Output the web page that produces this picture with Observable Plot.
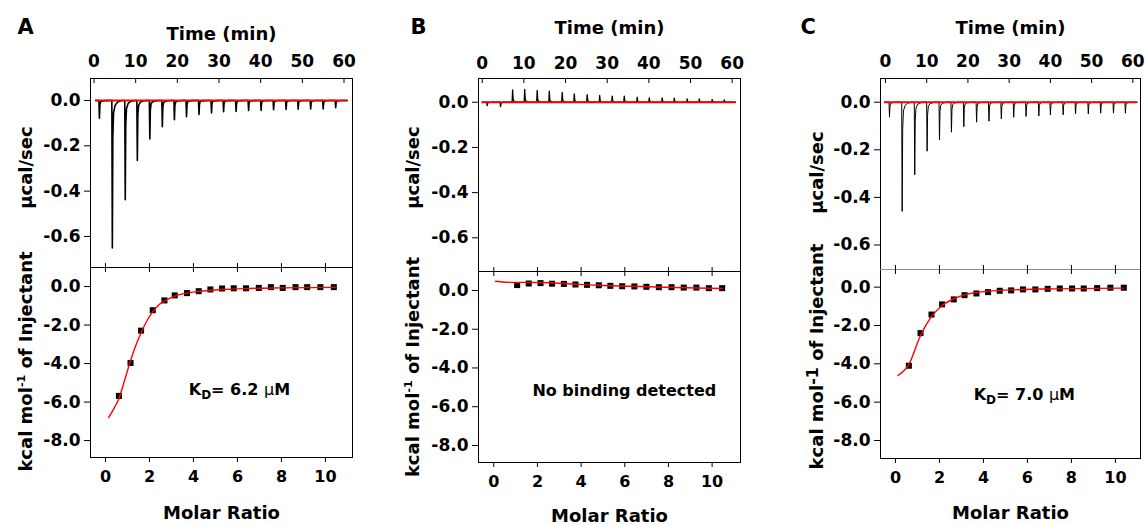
<!DOCTYPE html>
<html>
<head>
<meta charset="utf-8">
<script src="https://cdn.jsdelivr.net/npm/d3@7"></script>
<script src="https://cdn.jsdelivr.net/npm/@observablehq/plot@0.6"></script>
<style>
  html, body { margin: 0; padding: 0; background: #fff; }
  #fig { position: relative; width: 1145px; height: 525px; overflow: hidden; }
  #fig > svg { position: absolute; }
</style>
</head>
<body>
<div id="fig"></div>
<script>
// ---- Axis ticks -------------------------------------------------------
const timeTicks = [0, 10, 20, 30, 40, 50, 60];
const ratioTicks = [0, 2, 4, 6, 8, 10];
const powerTicks = [0, -0.2, -0.4, -0.6];
const heatTicks = [0, -2, -4, -6, -8];

// Shape of one injection peak: minutes relative to the peak, fraction of peak height
const peakProfile = [[-0.12, 0], [0, 1], [0.12, 0.25], [0.3, 0.08], [0.7, 0.03], [1.3, 0.01], [2.2, 0]];

// ---- A ----------------------------------------------------------------
const timesA = [1.3, 4.4, 7.5, 10.4, 13.4, 16.4, 19.3, 22.2, 25.2, 28.2, 31.1, 34.1, 37.1, 40.1, 43.1, 46.1, 49.0, 52.0, 55.0, 58.0];
const peaksA = [-0.078, -0.651, -0.438, -0.265, -0.170, -0.116, -0.085, -0.072, -0.062, -0.055, -0.050, -0.048, -0.044, -0.044, -0.041, -0.040, -0.038, -0.037, -0.037, -0.032];
const baselineA = [0.4, 60.8];
const ratioA = [0.61, 1.14, 1.62, 2.15, 2.68, 3.15, 3.71, 4.24, 4.77, 5.30, 5.83, 6.39, 6.97, 7.52, 8.06, 8.64, 9.17, 9.77, 10.38];
const heatA = [-5.68, -3.97, -2.29, -1.23, -0.72, -0.46, -0.34, -0.24, -0.15, -0.10, -0.09, -0.09, -0.07, -0.03, -0.07, -0.03, -0.03, -0.03, -0.03];
const fitRatioA = [0.15, 0.4, 0.6, 0.85, 1.1, 1.35, 1.6, 1.9, 2.15, 2.4, 2.7, 3.15, 3.7, 4.25, 5.3, 6.5, 8.0, 10.45];
const fitHeatA = [-6.8, -6.3, -5.85, -4.95, -4.0, -3.15, -2.45, -1.75, -1.3, -0.98, -0.74, -0.5, -0.34, -0.25, -0.15, -0.1, -0.07, -0.04];

// ---- B ----------------------------------------------------------------
const timesB = [1.2, 4.4, 7.3, 10.2, 13.2, 16.1, 19.2, 22.1, 25.2, 28.2, 31.2, 34.1, 37.2, 40.1, 43.2, 46.1, 49.2, 52.1, 55.2, 58.1];
const peaksB = [-0.015, -0.019, 0.055, 0.057, 0.052, 0.049, 0.044, 0.037, 0.034, 0.030, 0.027, 0.027, 0.022, 0.019, 0.019, 0.018, 0.015, 0.015, 0.012, 0.010];
const baselineB = [0.0, 60.8];
const ratioB = [1.07, 1.60, 2.14, 2.67, 3.21, 3.74, 4.27, 4.81, 5.34, 5.88, 6.44, 6.99, 7.56, 8.14, 8.70, 9.28, 9.85, 10.46];
const heatB = [0.28, 0.36, 0.38, 0.35, 0.34, 0.31, 0.29, 0.27, 0.24, 0.22, 0.21, 0.19, 0.17, 0.17, 0.15, 0.15, 0.12, 0.12];
const fitRatioB = [0.08, 0.3, 0.76, 2.14, 3.36, 4.73, 6.26, 7.79, 10.46];
const fitHeatB = [0.48, 0.45, 0.42, 0.41, 0.35, 0.27, 0.22, 0.17, 0.10];

// ---- C ----------------------------------------------------------------
const timesC = [0.97, 4.05, 7.1, 10.1, 13.1, 16.0, 19.0, 22.1, 25.1, 28.1, 31.1, 34.1, 37.2, 40.0, 43.1, 46.1, 49.2, 52.2, 55.3, 58.2];
const peaksC = [-0.063, -0.459, -0.305, -0.206, -0.159, -0.126, -0.103, -0.084, -0.080, -0.070, -0.063, -0.060, -0.058, -0.053, -0.053, -0.049, -0.049, -0.046, -0.046, -0.046];
const baselineC = [-0.25, 61.1];
const ratioC = [0.61, 1.14, 1.64, 2.12, 2.65, 3.14, 3.68, 4.21, 4.74, 5.26, 5.80, 6.36, 6.92, 7.47, 8.03, 8.56, 9.17, 9.77, 10.38];
const heatC = [-4.10, -2.40, -1.43, -0.90, -0.64, -0.42, -0.33, -0.26, -0.19, -0.17, -0.12, -0.12, -0.09, -0.07, -0.07, -0.07, -0.05, -0.03, -0.03];
const fitRatioC = [0.11, 0.61, 1.14, 1.64, 2.12, 2.65, 3.14, 3.7, 4.74, 6.7, 10.38];
const fitHeatC = [-4.61, -4.03, -2.52, -1.53, -0.96, -0.61, -0.40, -0.28, -0.17, -0.10, -0.05];

// ---- Panel layout -----------------------------------------------------
const panels = [
  {
    letter: "A", times: timesA, peaks: peaksA, baseline: baselineA,
    ratio: ratioA, heat: heatA, fitRatio: fitRatioA, fitHeat: fitHeatA,
    note: "KD= 6.2 µM", noteAt: [6.09, -5.35],
    yTitle: "kcal mol-1 of Injectant", sup: {size: 11, dy: -7},
    left: 0, width: 370, ml: 90, mr: 18, top: 78, divider: 267, bottom: 457,
    timeDomain: [-0.84, 62.04], powerDomain: [-0.737, 0.097],
    ratioDomain: [-0.68, 11.23], heatDomain: [-8.88, 0.99],
    letterDx: -73, timeTitleDy: -38.7, timePad: 11.3, ratioTitleDy: 61,
    titleDx: -64, topTitleDy: -5.5, bottomTitleDy: -1,
    traceWidth: 1.6, dividerColor: "black"
  },
  {
    letter: "B", times: timesB, peaks: peaksB, baseline: baselineB,
    ratio: ratioB, heat: heatB, fitRatio: fitRatioB, fitHeat: fitHeatB,
    note: "No binding detected", noteAt: [5.98, -5.16],
    yTitle: "kcal mol-1 of Injectant", sup: {size: 11, dy: -7},
    left: 380, width: 370, ml: 98, mr: 10, top: 78, divider: 271, bottom: 462,
    timeDomain: [-0.89, 62.0], powerDomain: [-0.749, 0.105],
    ratioDomain: [-0.70, 11.30], heatDomain: [-8.88, 0.98],
    letterDx: -68, timeTitleDy: -44.7, timePad: 9.7, ratioTitleDy: 59,
    titleDx: -65, topTitleDy: -7.5, bottomTitleDy: 0,
    traceWidth: 1.3, dividerColor: "black"
  },
  {
    letter: "C", times: timesC, peaks: peaksC, baseline: baselineC,
    ratio: ratioC, heat: heatC, fitRatio: fitRatioC, fitHeat: fitHeatC,
    note: "KD= 7.0 µM", noteAt: [5.86, -5.61],
    yTitle: "kcal mol-1 of Injectant", sup: {size: 16, dy: -5},
    left: 760, width: 385, ml: 120, mr: 5, top: 78, divider: 269, bottom: 458,
    timeDomain: [-1.21, 61.86], powerDomain: [-0.703, 0.0996],
    ratioDomain: [-0.68, 11.14], heatDomain: [-8.94, 0.92],
    letterDx: -80, timeTitleDy: -44.7, timePad: 11.3, ratioTitleDy: 60,
    titleDx: -63, topTitleDy: -1.5, bottomTitleDy: -7.5,
    traceWidth: 1, dividerColor: "#8c8c8c"
  }
];

const FONT = "DejaVu Sans, sans-serif";
const baseStyle = {
  fontFamily: FONT, fontSize: "16px", fontWeight: "bold", color: "black",
  background: "transparent", overflow: "visible"
};
const fmt1 = d => d.toFixed(1);

// Continuous power trace built from the injection peaks
function buildTrace(times, peaks, [t0, t1]) {
  const pts = [{t: t0, v: 0}];
  times.forEach((tp, i) => {
    for (const [dt, f] of peakProfile) pts.push({t: tp + dt, v: peaks[i] * f});
  });
  pts.push({t: t1, v: 0});
  return pts;
}

// Replace a plain text node with styled tspans (sub/superscripts, symbol glyphs)
function richText(svg, content, parts) {
  d3.select(svg).selectAll("text")
    .filter(function () { return this.textContent === content; })
    .each(function () {
      const t = d3.select(this).text(null);
      for (const p of parts) {
        const s = t.append("tspan").text(p.text);
        if (p.dy) s.attr("dy", p.dy);
        if (p.size) s.attr("font-size", p.size);
        if (p.weight) s.attr("font-weight", p.weight);
      }
    });
}

// Tick label size for the axes of one plot
function tickFont(svg, axis, size) {
  d3.select(svg).selectAll(`g[aria-label="${axis}-axis tick label"]`)
    .style("font-size", size + "px")
    .selectAll("text").style("font-size", size + "px");
}

const fig = document.getElementById("fig");

for (const p of panels) {
  // ---- raw heat-rate panel ----
  const topInner = p.divider - p.top;
  const trace = buildTrace(p.times, p.peaks, p.baseline);
  const topPlot = Plot.plot({
    width: p.width, height: p.divider,
    marginLeft: p.ml, marginRight: p.mr, marginTop: p.top, marginBottom: 0,
    style: baseStyle,
    x: {domain: p.timeDomain},
    y: {domain: p.powerDomain},
    marks: [
      Plot.frame({stroke: "black"}),
      Plot.tickX(timeTicks, {x: d => d, insetBottom: topInner - 5, stroke: "black"}),
      Plot.axisX({anchor: "top", ticks: timeTicks, tickSize: 0, tickPadding: p.timePad,
                  tickFormat: d => String(d), label: null}),
      Plot.axisY({ticks: powerTicks, tickSize: 6, tickPadding: 4, tickFormat: fmt1, label: null}),
      Plot.line(trace, {x: d => d.t, y: d => d.v, stroke: "black", strokeWidth: p.traceWidth}),
      Plot.ruleY([0], {x1: p.baseline[0], x2: p.baseline[1], stroke: "#ff0000", strokeWidth: 2}),
      Plot.text([p.letter], {text: d => d, frameAnchor: "top-left", dx: p.letterDx, dy: -45,
                             textAnchor: "start", lineAnchor: "bottom", fontSize: 21}),
      Plot.text(["Time (min)"], {text: d => d, frameAnchor: "top", dy: p.timeTitleDy,
                                 textAnchor: "middle", lineAnchor: "bottom", fontSize: 18}),
      Plot.text(["µcal/sec"], {text: d => d, frameAnchor: "left", dx: p.titleDx, dy: p.topTitleDy,
                               rotate: -90, textAnchor: "middle", lineAnchor: "middle", fontSize: 18})
    ]
  });
  tickFont(topPlot, "x", 17);
  tickFont(topPlot, "y", 17);
  topPlot.style.left = p.left + "px";
  topPlot.style.top = "0px";
  fig.appendChild(topPlot);

  // ---- integrated heat panel ----
  const botHeight = 525 - p.divider;
  const botInner = p.bottom - p.divider;
  const points = p.ratio.map((r, i) => ({r, h: p.heat[i]}));
  const fit = p.fitRatio.map((r, i) => ({r, h: p.fitHeat[i]}));
  const botPlot = Plot.plot({
    width: p.width, height: botHeight,
    marginLeft: p.ml, marginRight: p.mr, marginTop: 0, marginBottom: 525 - p.bottom,
    style: baseStyle,
    x: {domain: p.ratioDomain},
    y: {domain: p.heatDomain},
    marks: [
      Plot.frame({stroke: "black"}),
      // divider between the two panels
      Plot.ruleY([p.heatDomain[1]], {stroke: p.dividerColor}),
      Plot.tickX(ratioTicks, {x: d => d, insetBottom: botInner - 5, stroke: "black"}),
      Plot.axisX({anchor: "top", ticks: ratioTicks, tickSize: 5, tickFormat: () => "", label: null}),
      Plot.axisX({anchor: "bottom", ticks: ratioTicks, tickSize: 5, tickPadding: 8,
                  tickFormat: d => String(d), label: null}),
      Plot.axisY({ticks: heatTicks, tickSize: 6, tickPadding: 4, tickFormat: fmt1, label: null}),
      Plot.dot(points, {x: "r", y: "h", symbol: "square", r: 3.4, fill: "black", stroke: "none"}),
      Plot.line(fit, {x: "r", y: "h", stroke: "#ff0000", strokeWidth: 1.4, curve: "monotone-x"}),
      Plot.text([p.note], {text: d => d, x: () => p.noteAt[0], y: () => p.noteAt[1],
                           textAnchor: "middle", lineAnchor: "middle", fontSize: 16}),
      Plot.text(["Molar Ratio"], {text: d => d, frameAnchor: "bottom", dy: p.ratioTitleDy,
                                  textAnchor: "middle", lineAnchor: "bottom", fontSize: 18}),
      Plot.text([p.yTitle], {text: d => d, frameAnchor: "left", dx: p.titleDx, dy: p.bottomTitleDy,
                             rotate: -90, textAnchor: "middle", lineAnchor: "middle", fontSize: 18})
    ]
  });
  tickFont(botPlot, "x", 16);
  tickFont(botPlot, "y", 17);
  botPlot.style.left = p.left + "px";
  botPlot.style.top = p.divider + "px";
  fig.appendChild(botPlot);

  // subscripts, superscripts and the µ glyph
  richText(botPlot, p.yTitle, [
    {text: "kcal mol"},
    {text: "-1", size: p.sup.size, dy: p.sup.dy},
    {text: " of Injectant", dy: -p.sup.dy}
  ]);
  if (p.note.startsWith("KD")) {
    const rest = p.note.slice(2).replace(" µM", " ");
    richText(botPlot, p.note, [
      {text: "K"},
      {text: "D", size: 12, dy: 4},
      {text: rest, dy: -4},
      {text: "µ", weight: "normal"},
      {text: "M"}
    ]);
  }
}
</script>
</body>
</html>
